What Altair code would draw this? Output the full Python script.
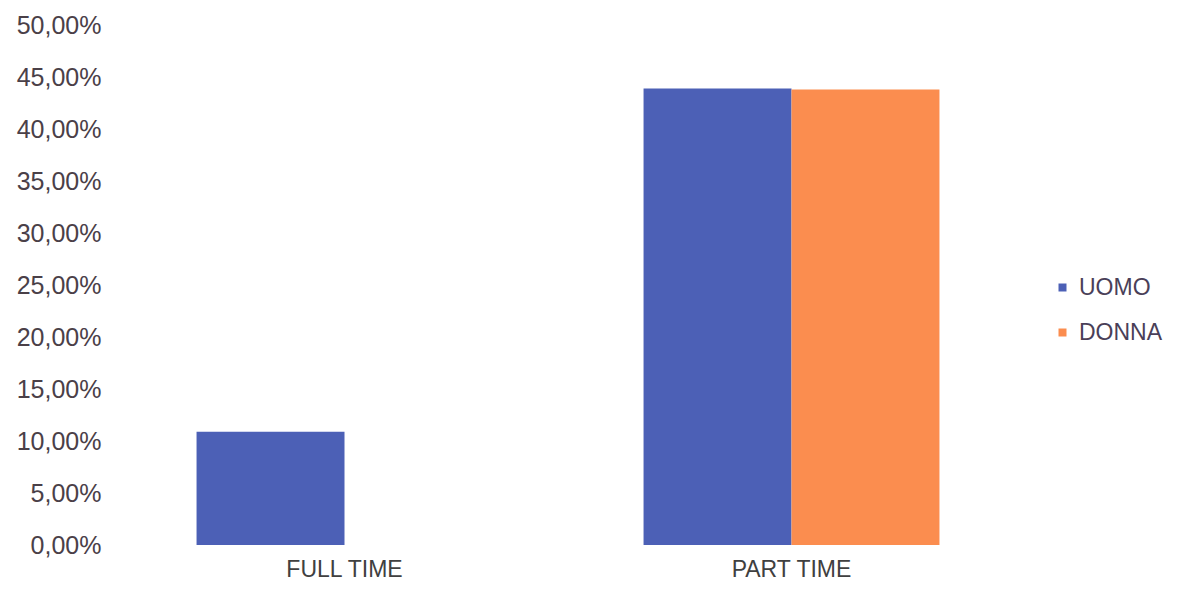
import altair as alt
import pandas as pd

categories = ["FULL TIME", "FULL TIME", "PART TIME", "PART TIME"]
genders = ["UOMO", "DONNA", "UOMO", "DONNA"]
values = [0.109, 0.0, 0.439, 0.438]

series_order = ["UOMO", "DONNA"]
series_colors = ["#4c60b6", "#fb8d4f"]
y_ticks = [0, 0.05, 0.10, 0.15, 0.20, 0.25, 0.30, 0.35, 0.40, 0.45, 0.50]

df = pd.DataFrame({"cat": categories, "gen": genders, "val": values})

chart = alt.Chart(df).mark_bar().encode(
    x=alt.X("cat:N", title=None,
            scale=alt.Scale(paddingInner=0.338, paddingOuter=0.169),
            axis=alt.Axis(labelAngle=0, domain=False, ticks=False,
                          labelPadding=13, labelFontSize=23,
                          labelColor="#404040", labelFont="Liberation Sans")),
    xOffset=alt.XOffset("gen:N", sort=series_order,
                        scale=alt.Scale(paddingInner=0, paddingOuter=0)),
    y=alt.Y("val:Q", title=None,
            scale=alt.Scale(domain=[0, 0.5], nice=False),
            axis=alt.Axis(values=y_ticks, grid=False, domain=False, ticks=False,
                          labelPadding=20, labelFontSize=25,
                          labelColor="#4a4048", labelFont="Liberation Sans",
                          labelExpr="replace(format(datum.value, '.2%'), '.', ',')")),
    color=alt.Color("gen:N", sort=series_order, title=None,
                    scale=alt.Scale(domain=series_order, range=series_colors),
                    legend=alt.Legend(orient="none", legendX=930, legendY=251,
                                      symbolType="square", symbolSize=64,
                                      labelFontSize=23, labelColor="#4a3f58",
                                      labelFont="Liberation Sans",
                                      labelOffset=5, rowPadding=21)),
).properties(
    width=894, height=520,
    padding={"left": 113, "top": 17, "right": 155, "bottom": 39},
    autosize=alt.AutoSizeParams(type="none"),
).configure_view(stroke=None)

chart.save("out.html", embed_options={"renderer": "svg", "actions": False})
